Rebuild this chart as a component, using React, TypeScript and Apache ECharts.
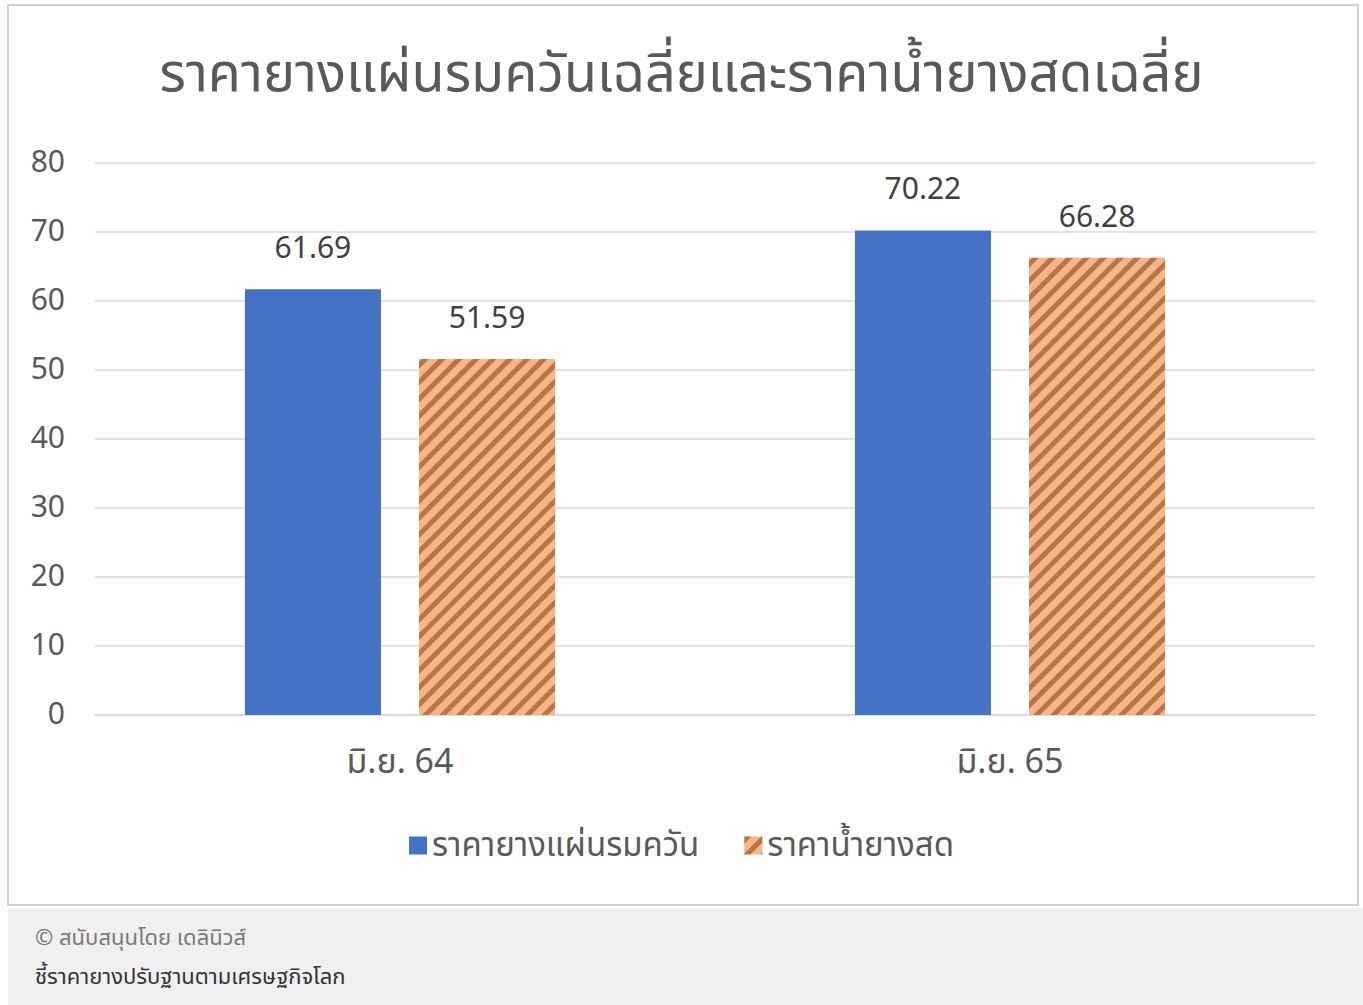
import React, { useEffect, useRef } from "react";
import * as echarts from "echarts";

const categories = ["มิ.ย. 64", "มิ.ย. 65"];
const smokedSheet = [61.69, 70.22];
const freshLatex = [51.59, 66.28];
const seriesNames = ["ราคายางแผ่นรมควัน", "ราคาน้ำยางสด"];
const titleText = "ราคายางแผ่นรมควันเฉลี่ยและราคาน้ำยางสดเฉลี่ย";
const footerLine1 = "© สนับสนุนโดย เดลินิวส์";
const footerLine2 = "ชี้ราคายางปรับฐานตามเศรษฐกิจโลก";

const FONT = "'Noto Sans Thai', 'Noto Sans', 'Open Sans', sans-serif";

export default function App() {
  const ref = useRef<HTMLDivElement>(null);
  useEffect(() => {
    if (!ref.current) return;
    const chart = echarts.init(ref.current, null, { renderer: "svg" });
    const decal = {
      symbol: "rect",
      symbolSize: 1,
      color: "rgba(165,95,45,0.75)",
      dashArrayX: [1, 0],
      dashArrayY: [4, 6],
      rotation: -Math.PI / 4,
    };
    chart.setOption({
      animation: false,
      backgroundColor: "#ffffff",
      textStyle: { fontFamily: FONT },
      graphic: [
        { type: "rect", z: -10, shape: { x: 8, y: 5, width: 1350, height: 900 }, style: { fill: "#fff", stroke: "#d0d0d0", lineWidth: 2 } },
        { type: "rect", z: -10, shape: { x: 8, y: 908, width: 1355, height: 97 }, style: { fill: "#f0f0f0" } },
        { type: "text", x: 35, y: 938, style: { text: footerLine1, font: `22px ${FONT}`, fill: "#7a7a7a", textVerticalAlign: "middle" } },
        { type: "text", x: 35, y: 977, style: { text: footerLine2, font: `22px ${FONT}`, fill: "#333", textVerticalAlign: "middle" } },
      ],
      title: {
        text: titleText,
        left: "center",
        top: 42,
        textStyle: { fontSize: 54, fontWeight: "normal", color: "#595959", fontFamily: FONT },
      },
      legend: {
        data: seriesNames,
        top: 824,
        left: "center",
        icon: "rect",
        itemWidth: 18,
        itemHeight: 18,
        itemGap: 45,
        textStyle: { fontSize: 33, color: "#595959", fontFamily: FONT },
      },
      grid: { left: 95, right: 48, top: 163, bottom: 290 },
      xAxis: {
        type: "category",
        data: categories,
        axisLine: { lineStyle: { color: "#d9d9d9", width: 1.5 } },
        axisTick: { show: false },
        axisLabel: { fontSize: 34, color: "#595959", margin: 30, fontFamily: FONT },
      },
      yAxis: {
        type: "value",
        min: 0,
        max: 80,
        interval: 10,
        axisLine: { show: false },
        axisTick: { show: false },
        splitLine: { lineStyle: { color: "#d9d9d9", width: 1.5 } },
        axisLabel: { fontSize: 30, color: "#595959", margin: 30, fontFamily: FONT },
      },
      series: [
        {
          name: seriesNames[0],
          type: "bar",
          data: smokedSheet,
          barWidth: "22.3%",
          barGap: "28%",
          itemStyle: { color: "#4472C4" },
          label: { show: true, position: "top", distance: 25, fontSize: 30, color: "#404040", fontFamily: FONT },
        },
        {
          name: seriesNames[1],
          type: "bar",
          data: freshLatex,
          barWidth: "22.3%",
          itemStyle: { color: "#F6B68A", decal: { ...decal, dashArrayY: [5, 7] } },
          label: { show: true, position: "top", distance: 25, fontSize: 30, color: "#404040", fontFamily: FONT },
        },
      ],
    });
    return () => chart.dispose();
  }, []);
  return (
    <div
      ref={ref}
      style={{ position: "absolute", left: 0, top: 0, width: 1363, height: 1005 }}
    />
  );
}
